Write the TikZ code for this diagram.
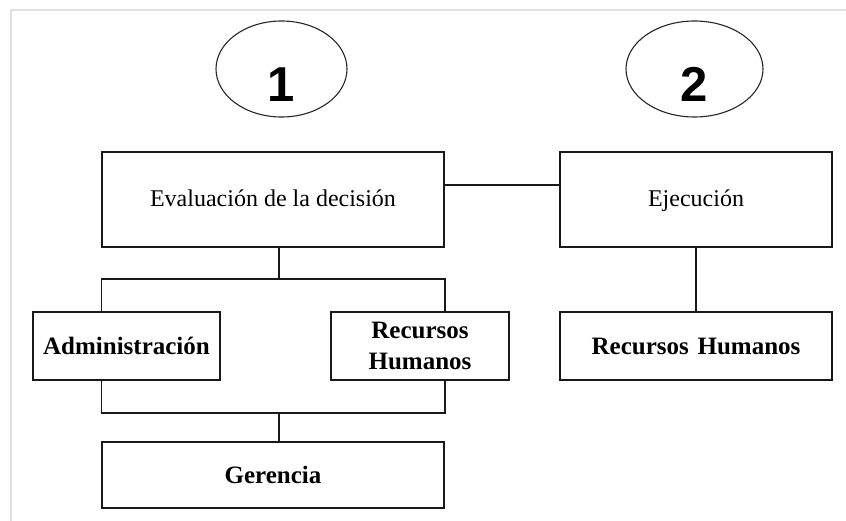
\documentclass[tikz,border=0pt]{standalone}
\usepackage{fontspec}
\setmainfont{Liberation Serif}
\newfontfamily\digitfont{Liberation Sans}
\usetikzlibrary{shapes.geometric}
\tikzset{
  box/.style={draw=black!90, line width=1.5pt, rectangle, inner sep=0pt, align=center},
  oneline/.style={text height=18pt, text depth=3pt},
  regtext/.style={font=\fontsize{24}{28}\selectfont},
  boldtext/.style={font=\fontsize{25}{31}\selectfont\bfseries},
  oval/.style={draw=black!85, line width=1.1pt, ellipse, inner sep=0pt,
    font=\digitfont\fontsize{49}{49}\selectfont\bfseries},
  link/.style={draw=black!90, line width=1.5pt},
  frame/.style={draw=black!12, line width=2pt}
}
\begin{document}
\begin{tikzpicture}[x=1pt, y=-1pt]
\useasboundingbox (0,0) rectangle (846,521);
\draw[frame] (11,522) -- (11,10) -- (847,10);

\node[oval, minimum width=131pt, minimum height=96pt] (o1) at (281.5,69) {\raisebox{-33pt}[0pt][0pt]{1}};
\node[oval, minimum width=137pt, minimum height=96pt] (o2) at (694.5,69) {\raisebox{-33pt}[0pt][0pt]{2}};

\node[box, oneline, regtext, minimum width=342pt, minimum height=95pt] (eval) at (273,199.5) {Evaluación de la decisión};
\node[box, oneline, regtext, minimum width=272pt, minimum height=95pt] (ejec) at (696,199.5) {Ejecución};
\node[box, oneline, boldtext, minimum width=187pt, minimum height=68pt, text height=19pt] (adm) at (126.5,346) {Administración};
\node[box, boldtext, minimum width=178pt, minimum height=68pt] (rh1) at (420,346) {Recursos\\Humanos};
\node[box, oneline, boldtext, minimum width=272pt, minimum height=68pt, text height=19pt] (rh2) at (696,346) {Recursos\hspace{0.35em}Humanos};
\node[box, oneline, boldtext, minimum width=342pt, minimum height=66pt, text height=19pt] (ger) at (273,475) {Gerencia};

\coordinate (busT) at (279,279);
\coordinate (busB) at (279,413);
\coordinate (side) at (500,185);

\draw[link] (eval.south -| busT) -- (busT);
\draw[link] (eval.south west |- adm.north) -- (eval.south west |- busT)
  -- (eval.south east |- busT) -- (eval.south east |- rh1.north);
\draw[link] (eval.south west |- adm.south) -- (eval.south west |- busB)
  -- (eval.south east |- busB) -- (eval.south east |- rh1.south);
\draw[link] (busB) -- (ger.north -| busB);
\draw[link] (eval.east |- side) -- (ejec.west |- side);
\draw[link] (ejec.south) -- (rh2.north);
\end{tikzpicture}
\end{document}
